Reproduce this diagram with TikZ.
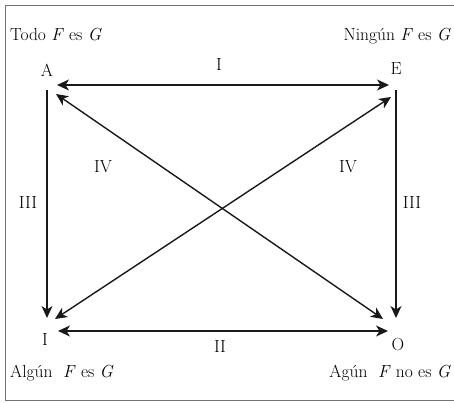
\documentclass[tikz,border=0pt]{standalone}
\usetikzlibrary{arrows.meta}
\begin{document}
\begin{tikzpicture}[x=1pt,y=-1pt,
  lbl/.style={inner sep=0pt,anchor=base,font=\fontsize{17.5}{20}\selectfont},
  captxt/.style={inner sep=0pt,font=\fontsize{17.5}{20}\selectfont},
  conn/.style={line width=1.4pt,color=black!90,{Stealth[length=12pt,width=11pt,inset=3.5pt]}-{Stealth[length=12pt,width=11pt,inset=3.5pt]}},
  conn1/.style={line width=1.4pt,color=black!90,-{Stealth[length=12pt,width=11pt,inset=3.5pt]}},
  frame/.style={draw=black!55,line width=0.9pt}]
\useasboundingbox (0,0) rectangle (454,403);
\draw[frame] (5.5,5.5) -- (460,5.5);
\draw[frame] (5.5,5.5) -- (5.5,400.5) -- (460,400.5);
% captions
\node[captxt,anchor=base west] (tA) at (10,41) {Todo \textit{F} es \textit{G}};
\node[captxt,anchor=base east] (tE) at (451,41) {Ningún \textit{F} es \textit{G}};
\node[captxt,anchor=base west] (tI) at (10,377) {Algún\ \ \textit{F} es \textit{G}};
\node[captxt,anchor=base east] (tO) at (451,377) {Agún\ \ \textit{F} no es \textit{G}};
% vertex letters
\node[lbl] (A) at (47,77) {A};
\node[lbl] (E) at (396,75) {E};
\node[lbl] (I) at (45,345) {I};
\node[lbl] (O) at (398,350) {O};
% relation labels
\node[lbl] (r1) at (219,71) {I};
\node[lbl] (r2) at (220,352) {II};
\node[lbl] (r3l) at (28,208) {III};
\node[lbl] (r3r) at (412,208) {III};
\node[lbl] (r4l) at (103,172) {IV};
\node[lbl] (r4r) at (348,172) {IV};
% connector endpoints
\coordinate (a1) at (57,85);   \coordinate (e1) at (389,85);
\coordinate (a2) at (47,90);   \coordinate (i2) at (47,318);
\coordinate (e2) at (396,90);  \coordinate (o2) at (396,318);
\coordinate (i3) at (58,331);  \coordinate (o3) at (388,331);
\coordinate (a4) at (56,94);   \coordinate (o4) at (383,319);
\coordinate (i5) at (55,319);  \coordinate (e5) at (391,97);
% connectors
\draw[conn] (a1) -- (e1);
\draw[conn1] (a2) -- (i2);
\draw[conn1] (e2) -- (o2);
\draw[conn] (i3) -- (o3);
\draw[conn] (a4) -- (o4);
\draw[conn] (i5) -- (e5);
\end{tikzpicture}
\end{document}
